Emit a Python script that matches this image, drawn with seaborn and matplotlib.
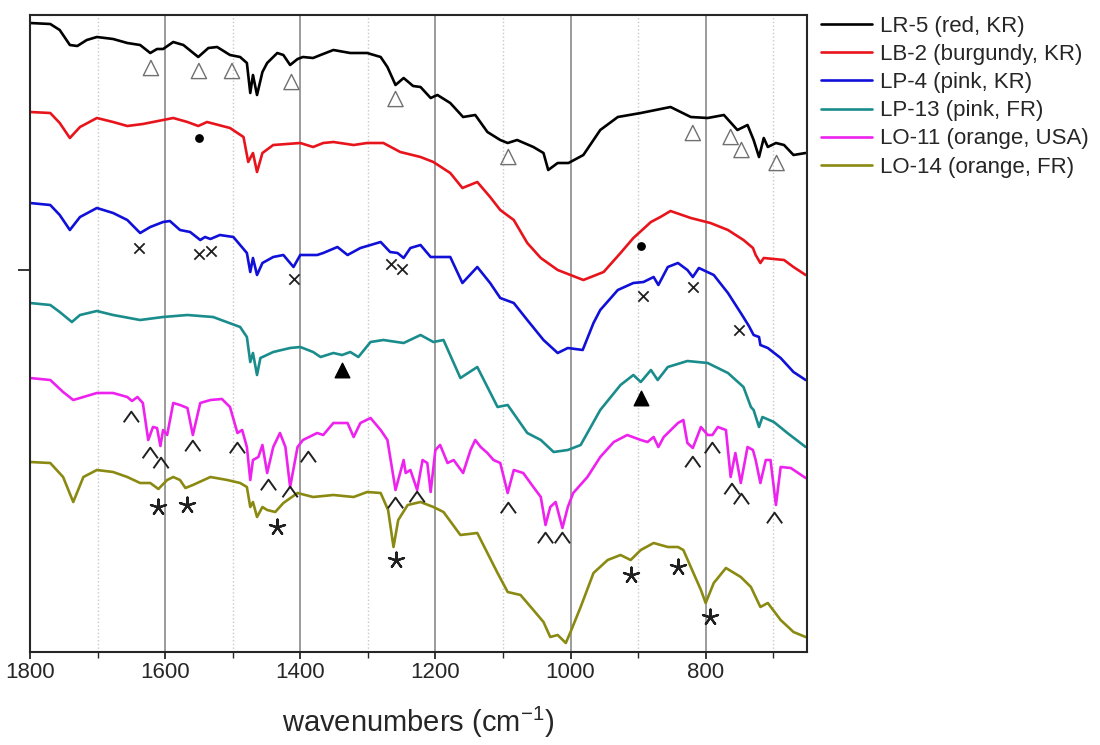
import numpy as np
import pandas as pd
import matplotlib
matplotlib.use("Agg")
import matplotlib.pyplot as plt
from matplotlib.path import Path
from matplotlib.ticker import MultipleLocator
import seaborn as sns

# sample names and line colours
names = ["LR-5 (red, KR)", "LB-2 (burgundy, KR)", "LP-4 (pink, KR)",
         "LP-13 (pink, FR)", "LO-11 (orange, USA)", "LO-14 (orange, FR)"]
colors = ["#000000", "#e8141c", "#1010d8", "#1a8c8c", "#ee22ee", "#8a8a12"]

# spectra (wavenumber, stacked intensity, arbitrary units)
lr5_wn = [1800, 1770, 1756, 1741, 1730, 1716, 1701, 1677, 1656, 1637, 1622, 1612, 1603, 1588, 1573,
          1551, 1536, 1523, 1504, 1489, 1479, 1474, 1470, 1464, 1456, 1449, 1434, 1425, 1415, 1404,
          1396, 1381, 1370, 1351, 1326, 1301, 1281, 1271, 1259, 1247, 1233, 1222, 1207, 1197, 1178,
          1159, 1141, 1123, 1104, 1093, 1079, 1055, 1040, 1033, 1019, 1003, 981, 956, 930, 896,
          852, 822, 797, 773, 753, 738, 729, 721, 714, 708, 696, 684, 670, 652]
lr5_y = [6.29, 6.28, 6.22, 6.07, 6.06, 6.12, 6.15, 6.13, 6.09, 6.07, 5.99, 6.03, 6.03, 6.10, 6.07,
         5.95, 6.04, 6.05, 5.97, 5.95, 5.89, 5.59, 5.77, 5.57, 5.80, 5.89, 5.99, 5.97, 5.87, 5.93,
         5.95, 5.94, 5.97, 6.02, 5.99, 5.99, 5.95, 5.85, 5.67, 5.74, 5.66, 5.65, 5.54, 5.57, 5.49,
         5.35, 5.37, 5.20, 5.12, 5.09, 5.12, 5.05, 4.99, 4.82, 4.89, 4.89, 4.97, 5.22, 5.35, 5.39,
         5.45, 5.35, 5.34, 5.37, 5.22, 5.27, 5.12, 4.95, 5.14, 5.05, 5.09, 5.07, 4.97, 4.99]

lb2_wn = [1800, 1770, 1756, 1741, 1726, 1701, 1677, 1656, 1633, 1603, 1588, 1567, 1551, 1538, 1504,
          1484, 1477, 1470, 1464, 1456, 1440, 1400, 1381, 1366, 1351, 1321, 1301, 1277, 1252, 1222,
          1203, 1178, 1160, 1138, 1119, 1104, 1084, 1064, 1044, 1019, 981, 951, 926, 907, 881,
          867, 852, 822, 793, 767, 744, 730, 726, 719, 714, 684, 670, 652]
lb2_y = [5.40, 5.39, 5.29, 5.14, 5.25, 5.34, 5.30, 5.26, 5.28, 5.32, 5.34, 5.30, 5.26, 5.30, 5.24,
         5.15, 4.90, 4.99, 4.80, 4.99, 5.07, 5.09, 5.05, 5.09, 5.10, 5.07, 5.09, 5.09, 5.00, 4.95,
         4.90, 4.79, 4.64, 4.70, 4.55, 4.42, 4.32, 4.09, 3.94, 3.82, 3.72, 3.80, 3.99, 4.14, 4.30,
         4.35, 4.41, 4.34, 4.29, 4.22, 4.12, 4.04, 3.97, 3.89, 3.94, 3.92, 3.85, 3.77]

lp4_wn = [1800, 1770, 1756, 1741, 1726, 1701, 1677, 1656, 1637, 1622, 1603, 1593, 1578, 1563, 1548,
          1541, 1533, 1519, 1499, 1479, 1474, 1470, 1464, 1456, 1440, 1425, 1410, 1400, 1375, 1366,
          1345, 1330, 1311, 1281, 1267, 1256, 1247, 1237, 1222, 1207, 1178, 1160, 1138, 1119, 1104,
          1084, 1064, 1040, 1019, 1004, 982, 966, 956, 930, 907, 892, 877, 870, 856, 841,
          827, 819, 810, 788, 767, 748, 736, 729, 721, 719, 708, 689, 670, 652]
lp4_y = [4.49, 4.47, 4.37, 4.22, 4.35, 4.44, 4.39, 4.32, 4.19, 4.25, 4.30, 4.31, 4.22, 4.20, 4.12,
         4.15, 4.13, 4.17, 4.15, 3.99, 3.80, 3.94, 3.77, 3.89, 3.95, 3.97, 3.85, 3.97, 3.97, 3.99,
         4.05, 3.97, 4.04, 4.10, 4.00, 3.99, 3.94, 4.04, 4.07, 3.95, 3.95, 3.69, 3.85, 3.69, 3.54,
         3.49, 3.32, 3.12, 2.99, 3.04, 3.02, 3.29, 3.42, 3.62, 3.69, 3.70, 3.75, 3.67, 3.85, 3.89,
         3.82, 3.75, 3.84, 3.77, 3.59, 3.39, 3.26, 3.17, 3.15, 3.07, 3.04, 2.94, 2.80, 2.72]

lp13_wn = [1800, 1770, 1756, 1738, 1726, 1701, 1677, 1637, 1603, 1567, 1529, 1489, 1479, 1474, 1470,
           1464, 1459, 1440, 1415, 1400, 1381, 1370, 1351, 1338, 1326, 1314, 1296, 1277, 1247, 1222,
           1203, 1188, 1163, 1138, 1108, 1093, 1064, 1044, 1025, 1004, 985, 956, 926, 907, 896,
           881, 871, 856, 827, 797, 767, 744, 733, 729, 721, 716, 699, 679, 652]
lp13_y = [3.49, 3.47, 3.40, 3.30, 3.37, 3.41, 3.37, 3.32, 3.35, 3.37, 3.35, 3.25, 3.15, 2.90, 2.99,
          2.77, 2.94, 3.00, 3.04, 3.05, 3.00, 2.95, 2.99, 2.97, 3.00, 2.95, 3.10, 3.12, 3.09, 3.17,
          3.10, 3.12, 2.74, 2.85, 2.45, 2.47, 2.19, 2.12, 2.00, 2.02, 2.07, 2.42, 2.67, 2.77, 2.70,
          2.82, 2.72, 2.85, 2.91, 2.89, 2.79, 2.65, 2.45, 2.42, 2.25, 2.35, 2.30, 2.19, 2.05]

lo11_wn = [1800, 1770, 1751, 1736, 1721, 1701, 1677, 1656, 1649, 1641, 1633, 1625, 1618, 1612, 1607,
           1603, 1597, 1588, 1578, 1567, 1559, 1548, 1533, 1516, 1504, 1493, 1486, 1479, 1474, 1470,
           1462, 1456, 1449, 1440, 1430, 1422, 1415, 1404, 1396, 1375, 1366, 1351, 1330, 1321, 1311,
           1296, 1281, 1271, 1259, 1247, 1244, 1237, 1227, 1219, 1212, 1207, 1200, 1193, 1182, 1173,
           1159, 1148, 1141, 1133, 1123, 1114, 1104, 1093, 1084, 1070, 1055, 1044, 1037, 1030, 1022,
           1012, 1004, 996, 975, 956, 936, 916, 896, 886, 877, 870, 862, 841, 833, 827,
           819, 807, 797, 790, 782, 770, 763, 756, 748, 738, 730, 726, 719, 711, 704,
           696, 689, 674, 652]
lo11_y = [2.74, 2.72, 2.60, 2.52, 2.55, 2.59, 2.59, 2.55, 2.51, 2.55, 2.49, 2.12, 2.25, 2.24, 2.06,
          2.22, 2.17, 2.49, 2.47, 2.44, 2.17, 2.49, 2.52, 2.53, 2.45, 2.19, 2.22, 2.05, 1.72, 1.92,
          1.95, 2.07, 1.79, 2.05, 2.19, 2.05, 1.65, 2.05, 2.12, 2.19, 2.17, 2.29, 2.29, 2.15, 2.29,
          2.34, 2.22, 2.12, 1.62, 1.92, 1.79, 1.82, 1.62, 1.92, 1.89, 1.60, 2.02, 2.07, 1.89, 1.92,
          1.79, 2.02, 2.12, 2.05, 1.99, 1.92, 1.89, 1.59, 1.82, 1.79, 1.65, 1.55, 1.27, 1.45, 1.50,
          1.24, 1.45, 1.59, 1.75, 1.95, 2.10, 2.17, 2.12, 2.10, 2.15, 2.05, 2.15, 2.29, 2.32, 2.09,
          2.04, 2.25, 2.17, 2.17, 2.25, 2.22, 1.75, 1.99, 1.69, 2.05, 2.02, 1.92, 1.69, 1.92, 1.92,
          1.47, 1.85, 1.84, 1.74]

lo14_wn = [1800, 1770, 1751, 1736, 1721, 1701, 1677, 1656, 1637, 1622, 1610, 1597, 1588, 1578, 1570,
           1559, 1533, 1508, 1489, 1479, 1474, 1470, 1464, 1456, 1449, 1437, 1425, 1404, 1381, 1351,
           1321, 1301, 1281, 1270, 1262, 1255, 1241, 1222, 1203, 1188, 1163, 1138, 1108, 1093, 1074,
           1055, 1040, 1030, 1019, 1007, 1000, 985, 966, 945, 926, 911, 896, 877, 856, 841,
           833, 822, 807, 800, 788, 770, 748, 733, 719, 708, 689, 670, 652]
lo14_y = [1.90, 1.89, 1.75, 1.50, 1.75, 1.82, 1.80, 1.75, 1.69, 1.69, 1.63, 1.72, 1.75, 1.72, 1.64,
          1.67, 1.75, 1.72, 1.69, 1.65, 1.45, 1.50, 1.35, 1.45, 1.42, 1.40, 1.49, 1.59, 1.55, 1.57,
          1.55, 1.60, 1.59, 1.42, 1.05, 1.32, 1.47, 1.50, 1.45, 1.40, 1.17, 1.19, 0.79, 0.60, 0.57,
          0.42, 0.30, 0.15, 0.17, 0.09, 0.20, 0.45, 0.79, 0.92, 0.97, 0.92, 1.02, 1.09, 1.05, 1.05,
          1.02, 0.85, 0.62, 0.49, 0.69, 0.84, 0.75, 0.65, 0.45, 0.49, 0.32, 0.20, 0.15]

# band assignment symbols
tri_open_wn = [1621, 1550, 1501, 1413, 1259, 1092, 819, 763, 747, 695]
tri_open_y = [5.84, 5.81, 5.81, 5.70, 5.53, 4.95, 5.19, 5.15, 5.02, 4.89]
dot_wn = [1550, 895]
dot_y = [5.14, 4.06]
cross_wn = [1639, 1550, 1532, 1409, 1265, 1249, 893, 819, 750]
cross_y = [4.04, 3.98, 4.01, 3.73, 3.88, 3.83, 3.56, 3.65, 3.22]
tri_fill_wn = [1338, 895]
tri_fill_y = [2.82, 2.54]
caret_wn = [1650, 1622, 1606, 1559, 1493, 1447, 1415, 1388, 1259, 1227, 1092, 1037, 1012,
            819, 790, 761, 747, 698]
caret_y = [2.35, 1.99, 1.89, 2.06, 2.04, 1.67, 1.60, 1.95, 1.49, 1.55, 1.44, 1.14, 1.14,
           1.90, 2.04, 1.63, 1.53, 1.34]
star_wn = [1610, 1567, 1434, 1259, 911, 841, 793]
star_y = [1.45, 1.47, 1.25, 0.92, 0.77, 0.85, 0.35]

sns.set_style("ticks")
plt.rcParams["font.family"] = ["Liberation Sans", "DejaVu Sans"]
plt.rcParams["mathtext.fontset"] = "custom"
plt.rcParams["mathtext.rm"] = "Liberation Sans"
plt.rcParams["mathtext.it"] = "Liberation Sans:italic"

all_wn = [lr5_wn, lb2_wn, lp4_wn, lp13_wn, lo11_wn, lo14_wn]
all_y = [lr5_y, lb2_y, lp4_y, lp13_y, lo11_y, lo14_y]
frames = []
for name, wn, y in zip(names, all_wn, all_y):
    frames.append(pd.DataFrame({"wn": wn, "y": y, "sample": name}))
df = pd.concat(frames, ignore_index=True)

fig = plt.figure(figsize=(11, 7.45), dpi=100)
ax = fig.add_axes([30 / 1100, 93 / 745, 777 / 1100, 637 / 745])

sns.lineplot(data=df, x="wn", y="y", hue="sample", hue_order=names,
             palette=colors, estimator=None, linewidth=1.9, ax=ax)

# symbols
ax.scatter(tri_open_wn, tri_open_y, marker="^", s=120, facecolors="none",
           edgecolors="#707070", linewidths=1.0, zorder=5)
ax.scatter(dot_wn, dot_y, marker="o", s=28, color="black", zorder=5)
ax.scatter(cross_wn, cross_y, marker="x", s=55, color="#202020", linewidths=1.3, zorder=5)
ax.scatter(tri_fill_wn, tri_fill_y, marker="^", s=110, color="black", zorder=5)
caret = Path([(-1, -0.7), (0, 0.7), (1, -0.7)], [Path.MOVETO, Path.LINETO, Path.LINETO])
ax.scatter(caret_wn, caret_y, marker=caret, s=120, facecolors="none",
           edgecolors="#202020", linewidths=1.4, zorder=5)
ax.scatter(star_wn, star_y, marker=(5, 2, 0), s=130, color="#202020", linewidths=1.6, zorder=5)

ax.set_xlim(1800, 650)
ax.set_ylim(0, 6.37)
ax.xaxis.set_major_locator(MultipleLocator(200))
ax.xaxis.set_minor_locator(MultipleLocator(100))
ax.set_yticks([3.82])
ax.set_yticklabels([])
ax.set_ylabel("")
ax.set_axisbelow(True)
ax.grid(which="major", axis="x", color="#808080", linewidth=1.1)
ax.grid(which="minor", axis="x", color="#c8c8c8", linestyle=":", linewidth=1.0)
ax.tick_params(axis="x", which="major", length=5, width=1.3, pad=2, labelsize=16)
ax.tick_params(axis="x", which="minor", length=4, width=1.0)
ax.tick_params(axis="y", length=9, width=1.3)
for sp in ax.spines.values():
    sp.set_linewidth(1.5)
ax.set_xlabel("wavenumbers (cm$^{-1}$)", fontsize=21, labelpad=16)

handles, labels = ax.get_legend_handles_labels()
ax.legend_.remove()
fig.legend(handles, labels, loc="upper left", bbox_to_anchor=(821 / 1100, 1 - 16 / 745),
           frameon=False, fontsize=16, borderpad=0, borderaxespad=0,
           labelspacing=0.32, handlelength=2.3, handletextpad=0.35)

fig.savefig("out.png", dpi=100)
